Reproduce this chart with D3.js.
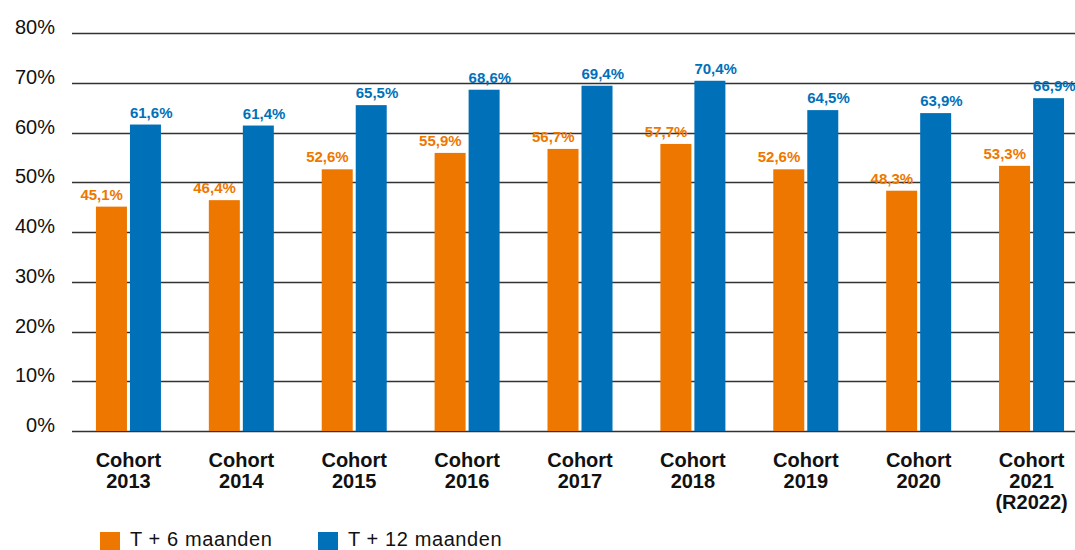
<!DOCTYPE html>
<html>
<head>
<meta charset="utf-8">
<script src="https://cdn.jsdelivr.net/npm/d3@7"></script>
<style>
  body { margin: 0; background: #fff; }
  svg { display: block; font-family: "Liberation Sans", Arial, sans-serif; }
</style>
</head>
<body>
<svg id="chart"></svg>
<script>
// cohorts and percentages
var cohorts = [["Cohort", "2013"], ["Cohort", "2014"], ["Cohort", "2015"], ["Cohort", "2016"],
    ["Cohort", "2017"], ["Cohort", "2018"], ["Cohort", "2019"], ["Cohort", "2020"],
    ["Cohort", "2021", "(R2022)"]];
var t6 = [45.1, 46.4, 52.6, 55.9, 56.7, 57.7, 52.6, 48.3, 53.3];
var t12 = [61.6, 61.4, 65.5, 68.6, 69.4, 70.4, 64.5, 63.9, 66.9];
var yTicks = [0, 10, 20, 30, 40, 50, 60, 70, 80];
var seriesNames = ["T + 6 maanden", "T + 12 maanden"];

var width = 1075,
    height = 550;

var orange = "#ee7700",
    blue = "#0071b9";

var svg = d3.select("#chart")
    .attr("width", width)
    .attr("height", height);

var x = d3.scaleBand()
    .domain(d3.range(cohorts.length))
    .range([72, 1088])
    .padding(0);

var y = d3.scaleLinear()
    .domain([0, 80])
    .range([431, 33]);

var fmt = function(v) { return d3.format(".1f")(v).replace(".", ",") + "%"; };

// gridlines + y labels
var grid = svg.append("g");
grid.selectAll("line")
    .data(yTicks)
    .enter()
    .append("line")
    .attr("x1", 72)
    .attr("x2", width)
    .attr("y1", function(d) { return Math.round(y(d)) + 0.5; })
    .attr("y2", function(d) { return Math.round(y(d)) + 0.5; })
    .attr("stroke", "#333")
    .attr("stroke-width", 1.3);

grid.selectAll("text")
    .data(yTicks)
    .enter()
    .append("text")
    .attr("x", 55)
    .attr("y", function(d) { return y(d) + 1; })
    .attr("text-anchor", "end")
    .attr("font-size", 20)
    .attr("fill", "#111")
    .text(function(d) { return d + "%"; });

var barW = 31;
var center = function(i) { return x(i) + x.bandwidth() / 2; };

var groups = svg.selectAll(".group")
    .data(cohorts)
    .enter()
    .append("g")
    .attr("class", "group");

// T+6 bars
groups.append("rect")
    .attr("x", function(d, i) { return center(i) - 32.5; })
    .attr("y", function(d, i) { return y(t6[i]); })
    .attr("width", barW)
    .attr("height", function(d, i) { return y(0) - y(t6[i]); })
    .attr("fill", orange);

// T+12 bars
groups.append("rect")
    .attr("x", function(d, i) { return center(i) + 1.5; })
    .attr("y", function(d, i) { return y(t12[i]); })
    .attr("width", barW)
    .attr("height", function(d, i) { return y(0) - y(t12[i]); })
    .attr("fill", blue);

groups.append("text")
    .attr("x", function(d, i) { return center(i) - 5.5; })
    .attr("y", function(d, i) { return y(t6[i]) - 7; })
    .attr("text-anchor", "end")
    .attr("font-size", 15)
    .attr("font-weight", "bold")
    .attr("fill", orange)
    .text(function(d, i) { return fmt(t6[i]); });

groups.append("text")
    .attr("x", function(d, i) { return center(i) + 1.5; })
    .attr("y", function(d, i) { return y(t12[i]) - 7; })
    .attr("text-anchor", "start")
    .attr("font-size", 15)
    .attr("font-weight", "bold")
    .attr("fill", blue)
    .text(function(d, i) { return fmt(t12[i]); });

// category labels
groups.append("text")
    .attr("text-anchor", "middle")
    .attr("font-size", 20)
    .attr("font-weight", "bold")
    .attr("fill", "#111")
    .each(function(d, i) {
        var t = d3.select(this);
        d.forEach(function(line, k) {
            t.append("tspan")
                .attr("x", center(i))
                .attr("y", 467 + k * 21)
                .text(line);
        });
    });

// legend
var legend = svg.append("g");
var legendX = [100, 318];
[orange, blue].forEach(function(c, k) {
    legend.append("rect")
        .attr("x", legendX[k])
        .attr("y", 532)
        .attr("width", 20)
        .attr("height", 18)
        .attr("fill", c);
    legend.append("text")
        .attr("x", legendX[k] + 30)
        .attr("y", 546)
        .attr("font-size", 20)
        .attr("letter-spacing", 0.6)
        .attr("fill", "#111")
        .text(seriesNames[k]);
});
</script>
</body>
</html>
